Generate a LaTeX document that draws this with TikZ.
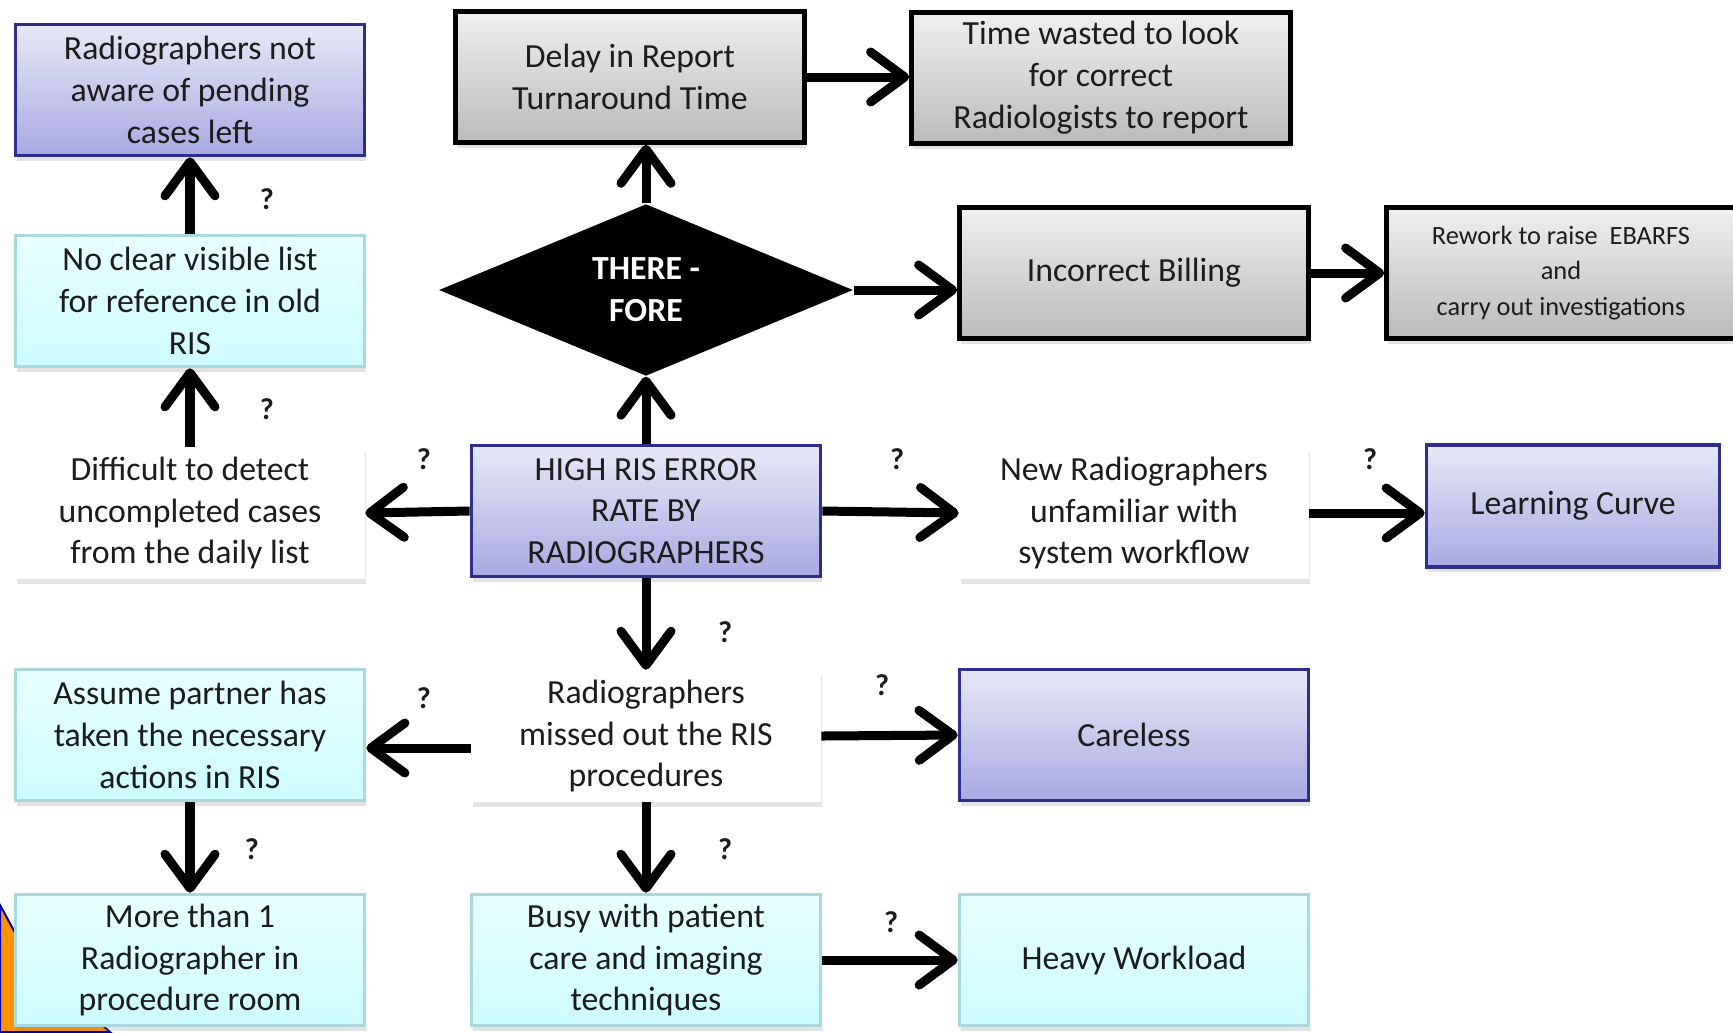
\documentclass[tikz,border=0pt]{standalone}
\usepackage{fontspec}
\setmainfont{Carlito}
\usetikzlibrary{arrows.meta,shapes.geometric,shadows}

\definecolor{navy}{HTML}{2E2E8E}
\definecolor{lavtop}{HTML}{E8E8F8}
\definecolor{lavbot}{HTML}{A9A9E2}
\definecolor{teal}{HTML}{A9D9DE}
\definecolor{cyantop}{HTML}{E8FFFF}
\definecolor{cyanbot}{HTML}{CCFCFF}
\definecolor{txt}{HTML}{1C1C1C}

\tikzset{
  box/.style={rectangle, minimum width=3.49cm, minimum height=1.31cm, align=center,
    text=txt, font=\fontsize{9.6}{11.9}\selectfont, inner sep=1pt,
    drop shadow={shadow xshift=0.015cm, shadow yshift=-0.05cm, opacity=0.22}},
  purplebox/.style={box, draw=navy, line width=0.035cm, top color=lavtop, bottom color=lavbot},
  cyanbox/.style={box, draw=teal, line width=0.035cm, top color=cyantop, bottom color=cyanbot},
  whitebox/.style={box, fill=white},
  graybox/.style={box, draw=black, line width=0.045cm, top color=black!6, bottom color=black!27},
  arr/.style={line width=0.09cm, -{Straight Barb[length=0.34cm, width=0.5cm, line cap=round, line join=round]}},
  qmark/.style={font=\bfseries\fontsize{8.6}{10}\selectfont, text=txt, inner sep=0pt}
}

\begin{document}
\begin{tikzpicture}[x=0.01cm, y=-0.01cm]
\useasboundingbox (0,0) rectangle (1733,1032);

\draw [fill=orange!85!yellow, draw=blue!70!black, line width=0.02cm] (0,905) -- (30,960) -- (110,1032) -- (0,1032) -- cycle;

\node [purplebox] (aware) at (190,90) {Radiographers not\\aware of pending\\cases left};
\node [cyanbox] (list) at (190,301) {No clear visible list\\for reference in old\\RIS};
\node [whitebox] (detect) at (190,513) {Difficult to detect\\uncompleted cases\\from the daily list};
\node [cyanbox] (assume) at (190,735) {Assume partner has\\taken the necessary\\actions in RIS};
\node [cyanbox] (more) at (190,960) {More than 1\\Radiographer in\\procedure room};

\node [graybox] (delay) at (630,77) {Delay in Report\\Turnaround Time};
\node [diamond, fill=black, text=white, font=\bfseries\fontsize{9.6}{11.9}\selectfont, align=center,
  minimum width=4.14cm, minimum height=1.63cm, inner sep=0pt] (dia) at (646,290) {THERE -\\FORE};
\node [purplebox] (high) at (646,511) {HIGH RIS ERROR\\RATE BY\\RADIOGRAPHERS};
\node [whitebox] (missed) at (646,736) {Radiographers\\missed out the RIS\\procedures};
\node [cyanbox] (busy) at (646,960) {Busy with patient\\care and imaging\\techniques};

\node [graybox, minimum width=3.79cm] (time) at (1101,78) {Time wasted to look\\for correct\\Radiologists to report};
\node [graybox] (bill) at (1134,273) {Incorrect Billing};
\node [graybox, font=\fontsize{7.5}{10}\selectfont] (rework) at (1561,273) {Rework to raise~~EBARFS\\and\\carry out investigations};
\node [whitebox] (newr) at (1134,513) {New Radiographers\\unfamiliar with\\system workflow};
\node [purplebox, minimum width=2.93cm, minimum height=1.22cm] (learn) at (1573,506) {Learning Curve};
\node [purplebox] (careless) at (1134,735) {Careless};
\node [cyanbox] (heavy) at (1134,960) {Heavy Workload};

\draw [arr] (list.north) -- (aware.south);
\draw [arr] (detect.north) -- (list.south);
\draw [arr] (high.west) -- (detect.east);
\draw [arr] (high.north) -- (dia.south);
\draw [arr] (dia.north) -- (dia.north |- delay.south);
\draw [arr] (delay.east) -- (delay.east -| time.west);
\draw [arr] (dia.east) -- (dia.east -| bill.west);
\draw [arr] (bill.east) -- (rework.west);
\draw [arr] (high.east) -- (newr.west);
\draw [arr] (newr.east) -- (newr.east -| learn.west);
\draw [arr] (high.south) -- (missed.north);
\draw [arr] ([yshift=-0.12cm]missed.west) -- ([yshift=-0.12cm]missed.west -| assume.east);
\draw [arr] (missed.east) -- (careless.west);
\draw [arr] (assume.south) -- (more.north);
\draw [arr] (missed.south) -- (busy.north);
\draw [arr] (busy.east) -- (heavy.west);

\node [qmark] (q1) at (267,199) {?};
\node [qmark] (q2) at (267,409) {?};
\node [qmark] (q3) at (424,459) {?};
\node [qmark] (q4) at (897,459) {?};
\node [qmark] (q5) at (1370,459) {?};
\node [qmark] (q6) at (725,632) {?};
\node [qmark] (q7) at (424,698) {?};
\node [qmark] (q8) at (882,685) {?};
\node [qmark] (q9) at (252,849) {?};
\node [qmark] (q10) at (725,849) {?};
\node [qmark] (q11) at (891,922) {?};
\end{tikzpicture}
\end{document}
